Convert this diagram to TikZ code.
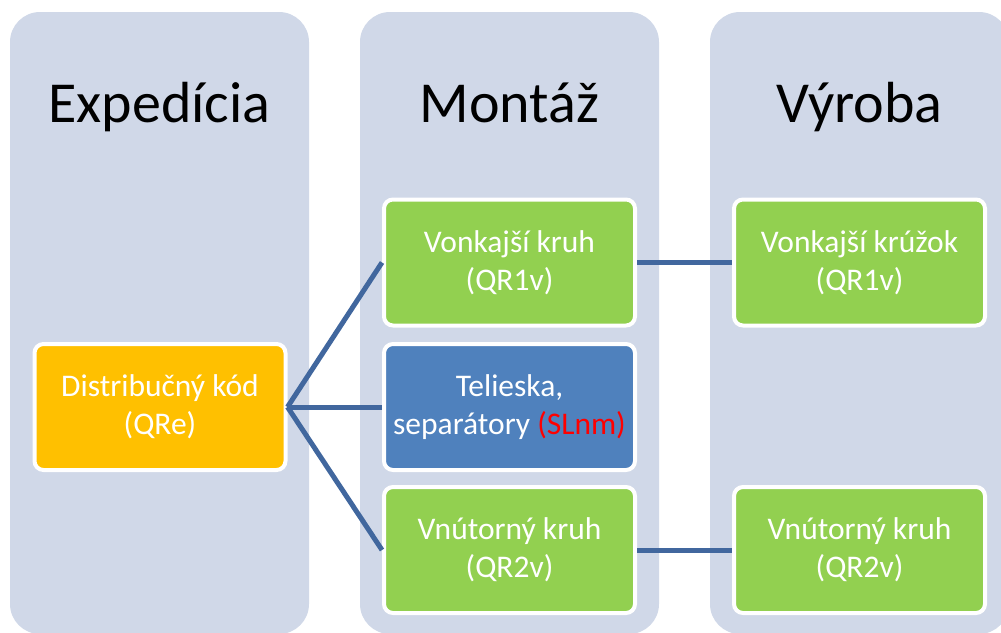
\documentclass[tikz,border=0pt]{standalone}
\usepackage{fontspec}
\setmainfont{Carlito}
\usetikzlibrary{positioning}

\definecolor{lanefill}{HTML}{D0D8E8}
\definecolor{greenfill}{HTML}{92D050}
\definecolor{orangefill}{HTML}{FFC000}
\definecolor{bluefill}{HTML}{4F81BD}
\definecolor{linkcol}{HTML}{41679E}

\tikzset{
  lane/.style={fill=lanefill, rounded corners=30pt, minimum width=299pt, minimum height=622pt, inner sep=0pt},
  head/.style={anchor=base, font=\fontsize{58}{66}\selectfont},
  item/.style={draw=white, line width=4pt, rounded corners=9pt, minimum width=251pt, minimum height=126pt,
    align=center, text=white, font=\fontsize{31.5}{38}\selectfont, inner sep=0pt},
  link/.style={draw=linkcol, line width=5pt}
}

\begin{document}
\begin{tikzpicture}[x=1pt, y=-1pt]
  \useasboundingbox (0,0) rectangle (1001,632);

  % columns
  \node[lane] (expcol) at (159.5, 323) {};
  \node[lane] (moncol) at (509.5, 323) {};
  \node[lane] (vyrcol) at (859.5, 323) {};

  \node[head] (exphead) at (159.5, 122) {Expedícia};
  \node[head] (monhead) at (509.5, 122) {Montáž};
  \node[head] (vyrhead) at (859.5, 122) {Výroba};

  % boxes
  \node[item, fill=orangefill] (qre) at (160, 407) {Distribučný kód\\(QRe)};
  \node[item, fill=greenfill] (monout) at (509.5, 262.5) {Vonkajší kruh\\(QR1v)};
  \node[item, fill=bluefill] (monsep) at (509.5, 407) {Telieska,\\separátory \textcolor{red}{(SLnm)}};
  \node[item, fill=greenfill] (monin) at (509.5, 550) {Vnútorný kruh\\(QR2v)};
  \node[item, fill=greenfill] (vyrout) at (859.5, 262.5) {Vonkajší krúžok\\(QR1v)};
  \node[item, fill=greenfill] (vyrin) at (859.5, 550) {Vnútorný kruh\\(QR2v)};

  % links
  \draw[link] (qre.east) -- (monout.west);
  \draw[link] (qre.east) -- (monsep.west);
  \draw[link] (qre.east) -- (monin.west);
  \draw[link] (monout.east) -- (vyrout.west);
  \draw[link] (monin.east) -- (vyrin.west);
\end{tikzpicture}
\end{document}
